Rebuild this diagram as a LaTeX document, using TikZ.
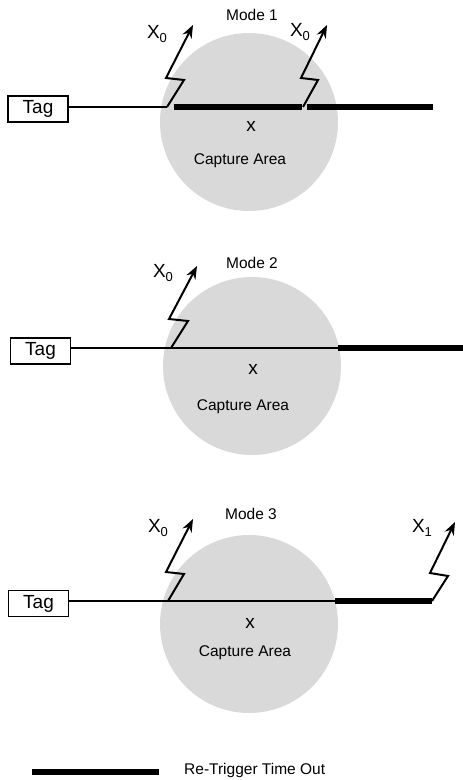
\documentclass[tikz,border=0pt]{standalone}
\usepackage{fontspec}
\setmainfont{Liberation Sans}
\usetikzlibrary{arrows.meta}
\newcommand{\sig}[1]{X\raisebox{-3.5pt}{\fontsize{13}{14}\selectfont #1}}
\tikzset{
  tagbox/.style={draw,line width=1.4pt,minimum width=60pt,minimum height=26pt,inner sep=0pt,font=\fontsize{19}{20}\selectfont},
  area/.style={circle,fill=black!15,minimum size=178pt,inner sep=0pt},
  lbl/.style={inner sep=0pt,font=\fontsize{15.5}{17}\selectfont},
  sub/.style={inner sep=0pt,font=\fontsize{19}{20}\selectfont},
  wire/.style={line width=1.3pt},
  timeout/.style={line width=6pt},
  bolt/.style={line width=2pt,-{Stealth[length=13pt,width=10pt]}}
}
\begin{document}
\begin{tikzpicture}[x=1pt,y=-1pt]
\useasboundingbox (0,0) rectangle (463,780);

% Mode 1
\node[area] (area1) at (249,122) {};
\node[lbl] (mode1) at (252,15) {Mode 1};
\node[sub] (mark1) at (251,126) {x};
\node[lbl] (cap1) at (240,161) {Capture Area};
\node[tagbox] (tag1) at (38,109) {Tag};
\coordinate (s1) at (167,107);
\coordinate (s2) at (303,107);
\coordinate (t1) at (174,107);
\coordinate (t2) at (302,107);
\coordinate (t3) at (307,107);
\coordinate (t4) at (433,107);
\draw [wire] (tag1.east |- s1) -- (s1);
\draw [timeout] (t1) -- (t2);
\draw [timeout] (t3) -- (t4);
\draw [bolt] (s1) -- ++(17,-27) -- ++(-18,-2) -- ++(27,-53);
\draw [bolt] (s2) -- ++(15,-27) -- ++(-17,-2) -- ++(26,-53);
\node[sub] (x01) at (157,34) {\sig{0}};
\node[sub] (x02) at (300,32) {\sig{0}};

% Mode 2
\node[area] (area2) at (252,366) {};
\node[lbl] (mode2) at (252,263) {Mode 2};
\node[sub] (mark2) at (253,369) {x};
\node[lbl] (cap2) at (243,407) {Capture Area};
\node[tagbox] (tag2) at (40.5,351) {Tag};
\coordinate (s3) at (171,348);
\coordinate (t5) at (338,348);
\coordinate (t6) at (463,348);
\draw [wire] (tag2.east |- s3) -- (t5);
\draw [timeout] (t5) -- (t6);
\draw [bolt] (s3) -- ++(17,-27) -- ++(-19,-2) -- ++(28,-53);
\node[sub] (x03) at (163,273) {\sig{0}};

% Mode 3
\node[area] (area3) at (249,624) {};
\node[lbl] (mode3) at (251,514) {Mode 3};
\node[sub] (mark3) at (250,623) {x};
\node[lbl] (cap3) at (245,653) {Capture Area};
\node[tagbox] (tag3) at (38.5,603.5) {Tag};
\coordinate (s4) at (168,601);
\coordinate (t7) at (335,601);
\coordinate (s5) at (432,601);
\draw [wire] (tag3.east |- s4) -- (t7);
\draw [timeout] (t7) -- (s5);
\draw [bolt] (s4) -- ++(16,-27) -- ++(-18,-2) -- ++(27,-53);
\draw [bolt] (s5) -- ++(16,-25) -- ++(-18,-3) -- ++(25,-51);
\node[sub] (x04) at (158,528) {\sig{0}};
\node[sub] (x11) at (422,528) {\sig{1}};

% legend
\coordinate (k1) at (32,772);
\coordinate (k2) at (159,772);
\draw [timeout] (k1) -- (k2);
\node[lbl,anchor=west] (key) at (184,770) {Re-Trigger Time Out};
\end{tikzpicture}
\end{document}
